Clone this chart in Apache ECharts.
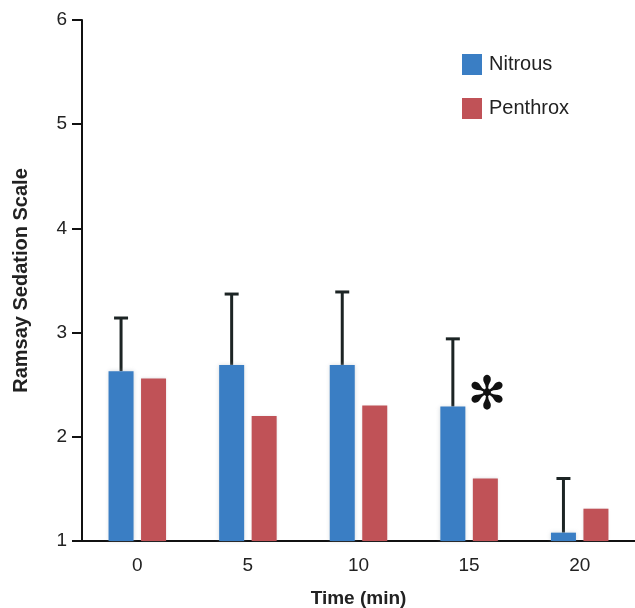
<!DOCTYPE html>
<html>
<head>
<meta charset="utf-8">
<script src="https://cdn.jsdelivr.net/npm/echarts@6/dist/echarts.min.js"></script>
<style>
  html, body { margin: 0; padding: 0; background: #fff; }
  #main { width: 635px; height: 608px; }
</style>
</head>
<body>
<div id="main"></div>
<script>
var times = ['0', '5', '10', '15', '20'];
var nitrous = [2.63, 2.69, 2.69, 2.29, 1.08];
var penthrox = [2.56, 2.2, 2.3, 1.6, 1.31];
var nitrousErr = [3.14, 3.37, 3.39, 2.94, 1.6];   // top of the upper error bar
var starAt = [3, 2.38];                              // significance mark: category index, value
var yTicks = [1, 2, 3, 4, 5, 6];

var BAR_W = 25;
var BAR_GAP = 0.3;

function showChart() {
    var myChart = echarts.init(document.getElementById('main'));
    var font = 'Liberation Sans, Arial, Helvetica, sans-serif';
    // offset of the Nitrous bar centre from category centre
    var blueOffset = -(BAR_W * 2 + BAR_W * BAR_GAP) / 2 + BAR_W / 2;

    var option = {
        animation: false,
        grid: { left: 82, right: 0, top: 20, bottom: 67, outerBoundsMode: 'none' },
        legend: {
            orient: 'vertical',
            left: 457,
            top: 49,
            itemWidth: 20,
            itemHeight: 21,
            itemGap: 23,
            icon: 'rect',
            textStyle: { fontFamily: font, fontSize: 20, color: '#222', padding: [0, 0, 0, 2] },
            data: ['Nitrous', 'Penthrox']
        },
        xAxis: {
            type: 'category',
            data: times,
            name: 'Time (min)',
            nameLocation: 'middle',
            nameGap: 48,
            nameTextStyle: { fontFamily: font, fontSize: 19, fontWeight: 'bold', color: '#222' },
            axisLine: { lineStyle: { color: '#111', width: 2 } },
            axisTick: { length: 11, lineStyle: { color: '#111', width: 2 } },
            axisLabel: { margin: 15, fontFamily: font, fontSize: 19, color: '#222' }
        },
        yAxis: {
            type: 'value',
            min: yTicks[0],
            max: yTicks[yTicks.length - 1],
            interval: 1,
            name: 'Ramsay Sedation Scale',
            nameLocation: 'middle',
            nameGap: 51,
            nameTextStyle: { fontFamily: font, fontSize: 20, fontWeight: 'bold', color: '#222' },
            splitLine: { show: false },
            axisLine: { show: true, lineStyle: { color: '#111', width: 2 } },
            axisTick: { show: true, length: 10, lineStyle: { color: '#111', width: 2 } },
            axisLabel: { margin: 15, fontFamily: font, fontSize: 19, color: '#222' }
        },
        series: [
            {
                name: 'Nitrous',
                type: 'bar',
                data: nitrous,
                barWidth: BAR_W,
                barGap: (BAR_GAP * 100) + '%',
                itemStyle: { color: '#3a7ec4', shadowColor: 'rgba(160,170,180,0.45)', shadowBlur: 4 }
            },
            {
                name: 'Penthrox',
                type: 'bar',
                data: penthrox,
                barWidth: BAR_W,
                itemStyle: { color: '#c05257', shadowColor: 'rgba(160,170,180,0.35)', shadowBlur: 3 }
            },
            {
                name: 'err',
                type: 'custom',
                z: 1,
                data: times.map(function (t, i) { return [i, nitrous[i], nitrousErr[i]]; }),
                renderItem: function (params, api) {
                    var low = api.coord([api.value(0), api.value(1)]);
                    var high = api.coord([api.value(0), api.value(2)]);
                    var x = low[0] + blueOffset;
                    var style = { stroke: '#1c2424', lineWidth: 3 };
                    return {
                        type: 'group',
                        children: [
                            { type: 'line', shape: { x1: x, y1: low[1], x2: x, y2: high[1] }, style: style },
                            { type: 'line', shape: { x1: x - 7, y1: high[1], x2: x + 7, y2: high[1] }, style: style }
                        ]
                    };
                }
            },
            {
                name: 'star',
                type: 'custom',
                z: 5,
                data: [starAt],
                renderItem: function (params, api) {
                    var p = api.coord([api.value(0), api.value(1)]);
                    return {
                        type: 'text',
                        x: p[0] + 18,
                        y: p[1],
                        style: {
                            text: '\u273B',
                            fontFamily: 'DejaVu Sans',
                            fontSize: 46,
                            fontWeight: 'bold',
                            fill: '#111',
                            align: 'center',
                            verticalAlign: 'middle'
                        }
                    };
                }
            }
        ]
    };
    myChart.setOption(option);
}

showChart();
</script>
</body>
</html>
